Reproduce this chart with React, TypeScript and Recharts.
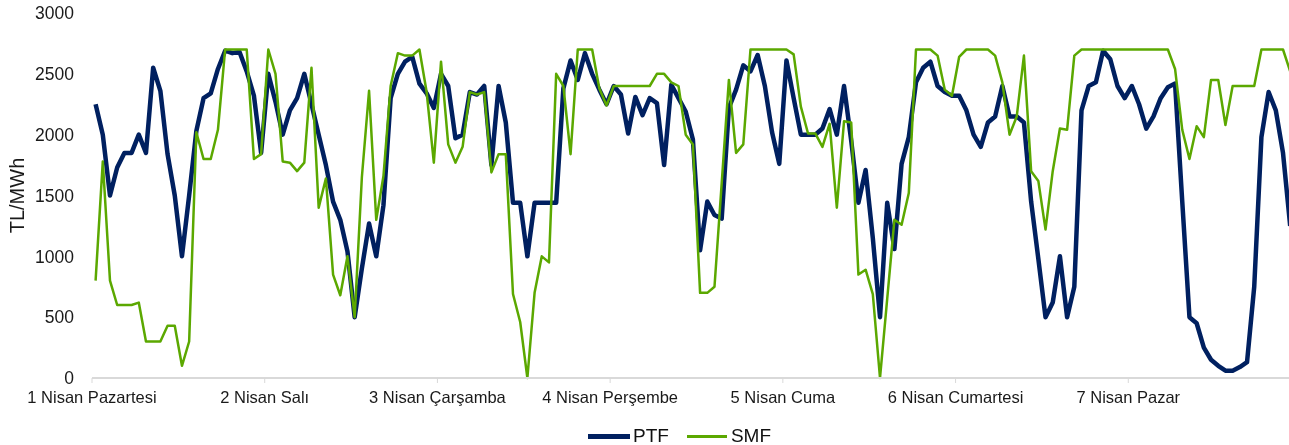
import React from 'react';
import { LineChart, Line, XAxis, YAxis, Legend } from 'recharts';

const days = [
  '1 Nisan Pazartesi',
  '2 Nisan Salı',
  '3 Nisan Çarşamba',
  '4 Nisan Perşembe',
  '5 Nisan Cuma',
  '6 Nisan Cumartesi',
  '7 Nisan Pazar',
];

// hourly values, TL/MWh (the last hours of Sunday run off the picture)
const ptf = [
  // 1 Nisan
  2250, 2000, 1500, 1730, 1850, 1850, 2000, 1850, 2550, 2360, 1840, 1500,
  1000, 1500, 2030, 2300, 2340, 2540, 2690, 2670, 2680, 2520, 2320, 1850,
  // 2 Nisan
  2500, 2270, 2000, 2200, 2300, 2500, 2250, 2000, 1750, 1450, 1300, 1040,
  500, 900, 1270, 1000, 1420, 2300, 2500, 2600, 2640, 2420, 2340, 2220,
  // 3 Nisan
  2500, 2400, 1970, 2000, 2350, 2330, 2400, 1750, 2400, 2100, 1440, 1440,
  1000, 1440, 1440, 1440, 1440, 2380, 2610, 2450, 2670, 2500, 2370, 2250,
  // 4 Nisan
  2400, 2330, 2010, 2310, 2160, 2300, 2260, 1750, 2410, 2300, 2190, 1960,
  1050, 1450, 1340, 1310, 2220, 2370, 2570, 2520, 2655, 2400, 2020, 1760,
  // 5 Nisan
  2610, 2300, 2000, 2000, 2000, 2050, 2210, 2000, 2400, 1950, 1440, 1710,
  1150, 500, 1440, 1060, 1760, 1980, 2430, 2550, 2600, 2400, 2350, 2320,
  // 6 Nisan
  2320, 2200, 2000, 1900, 2100, 2150, 2400, 2150, 2150, 2100, 1450, 980,
  500, 620, 1000, 500, 750, 2200, 2400, 2430, 2690, 2620, 2400, 2300,
  // 7 Nisan
  2400, 2250, 2050, 2150, 2300, 2390, 2420, 1450, 500, 450, 250, 150,
  100, 60, 60, 90, 130, 750, 1980, 2350, 2200, 1850, 1250,
];

const smf = [
  // 1 Nisan
  800, 1780, 800, 600, 600, 600, 620, 300, 300, 300, 430, 430,
  100, 300, 2020, 1800, 1800, 2040, 2700, 2700, 2700, 2700, 1800, 1840,
  // 2 Nisan
  2700, 2500, 1780, 1770, 1700, 1770, 2550, 1400, 1640, 850, 680, 1000,
  500, 1650, 2360, 1300, 1660, 2400, 2670, 2650, 2650, 2700, 2350, 1770,
  // 3 Nisan
  2600, 1920, 1770, 1900, 2350, 2330, 2350, 1690, 1840, 1840, 690, 460,
  0, 700, 1000, 950, 2500, 2400, 1840, 2700, 2700, 2700, 2380, 2240,
  // 4 Nisan
  2400, 2400, 2400, 2400, 2400, 2400, 2500, 2500, 2430, 2400, 2000, 1920,
  700, 700, 750, 1600, 2450, 1850, 1920, 2700, 2700, 2700, 2700, 2700,
  // 5 Nisan
  2700, 2660, 2230, 2010, 2010, 1900, 2090, 1400, 2110, 2100, 850, 890,
  690, 0, 650, 1300, 1260, 1520, 2700, 2700, 2700, 2650, 2370, 2320,
  // 6 Nisan
  2640, 2700, 2700, 2700, 2700, 2650, 2430, 2000, 2150, 2650, 1700, 1620,
  1220, 1700, 2050, 2040, 2650, 2700, 2700, 2700, 2700, 2700, 2700, 2700,
  // 7 Nisan
  2700, 2700, 2700, 2700, 2700, 2700, 2540, 2040, 1800, 2070, 1980, 2450,
  2450, 2080, 2400, 2400, 2400, 2400, 2700, 2700, 2700, 2700, 2520,
];

const yTicks = [0, 500, 1000, 1500, 2000, 2500, 3000];

const NAVY = '#002060';
const GREEN = '#5BA800';
const FONT = '"Liberation Sans", Arial, sans-serif';

const data = ptf.map((v, h) => ({ h, ptf: v, smf: smf[h] }));
// day boundaries sit between hour categories
const dayTicks = days.map((_, d) => d * 24 - 0.5);

function LegendBox() {
  return (
    <div style={{ display: 'flex', alignItems: 'center', fontFamily: FONT, fontSize: 19, color: '#111' }}>
      <span style={{ display: 'inline-block', width: 42, height: 5, background: NAVY }} />
      <span style={{ marginLeft: 3 }}>PTF</span>
      <span style={{ display: 'inline-block', width: 40, height: 3, background: GREEN, marginLeft: 18 }} />
      <span style={{ marginLeft: 4 }}>SMF</span>
    </div>
  );
}

export default function App() {
  // the full week is a bit wider than the window; the right end is cut off like in the source
  return (
    <div style={{ position: 'fixed', top: 0, left: 0, width: 1289, height: 445, overflow: 'hidden' }}>
      <LineChart width={1301} height={445} data={data} margin={{ top: 13, right: 0, bottom: 37, left: 0 }}>
        <XAxis
          type="number"
          dataKey="h"
          domain={[-0.5, 167.5]}
          ticks={dayTicks}
          interval={0}
          tickFormatter={(v: number) => days[Math.round((v + 0.5) / 24)]}
          axisLine={{ stroke: '#D9D9D9', strokeWidth: 2 }}
          tickLine={{ stroke: '#D9D9D9' }}
          tickSize={5}
          tickMargin={8}
          height={30}
          tick={{ fontSize: 16.5, fill: '#1a1a1a', fontFamily: FONT }}
        />
        <YAxis
          domain={[0, 3000]}
          ticks={yTicks}
          interval={0}
          axisLine={false}
          tickLine={false}
          tickSize={0}
          tickMargin={18}
          width={92}
          tick={{ fontSize: 17.5, fill: '#1a1a1a', fontFamily: FONT }}
          label={{
            content: ({ viewBox }: any) => {
              const cx = viewBox.x + 17;
              const cy = viewBox.y + viewBox.height / 2;
              return (
                <text
                  x={cx}
                  y={cy}
                  transform={`rotate(-90, ${cx}, ${cy})`}
                  textAnchor="middle"
                  dominantBaseline="central"
                  fontSize={20}
                  fontFamily={FONT}
                  fill="#1a1a1a"
                >
                  TL/MWh
                </text>
              );
            },
          }}
        />
        <Legend
          layout="horizontal"
          verticalAlign="middle"
          align="center"
          content={<LegendBox />}
          wrapperStyle={{ position: 'absolute', left: 588, top: 425, width: 220, height: 26 }}
        />
        <Line
          type="linear"
          dataKey="ptf"
          name="PTF"
          stroke={NAVY}
          strokeWidth={4.5}
          strokeLinejoin="round"
          dot={false}
          activeDot={false}
          isAnimationActive={false}
        />
        <Line
          type="linear"
          dataKey="smf"
          name="SMF"
          stroke={GREEN}
          strokeWidth={2.5}
          strokeLinejoin="round"
          dot={false}
          activeDot={false}
          isAnimationActive={false}
        />
      </LineChart>
    </div>
  );
}
